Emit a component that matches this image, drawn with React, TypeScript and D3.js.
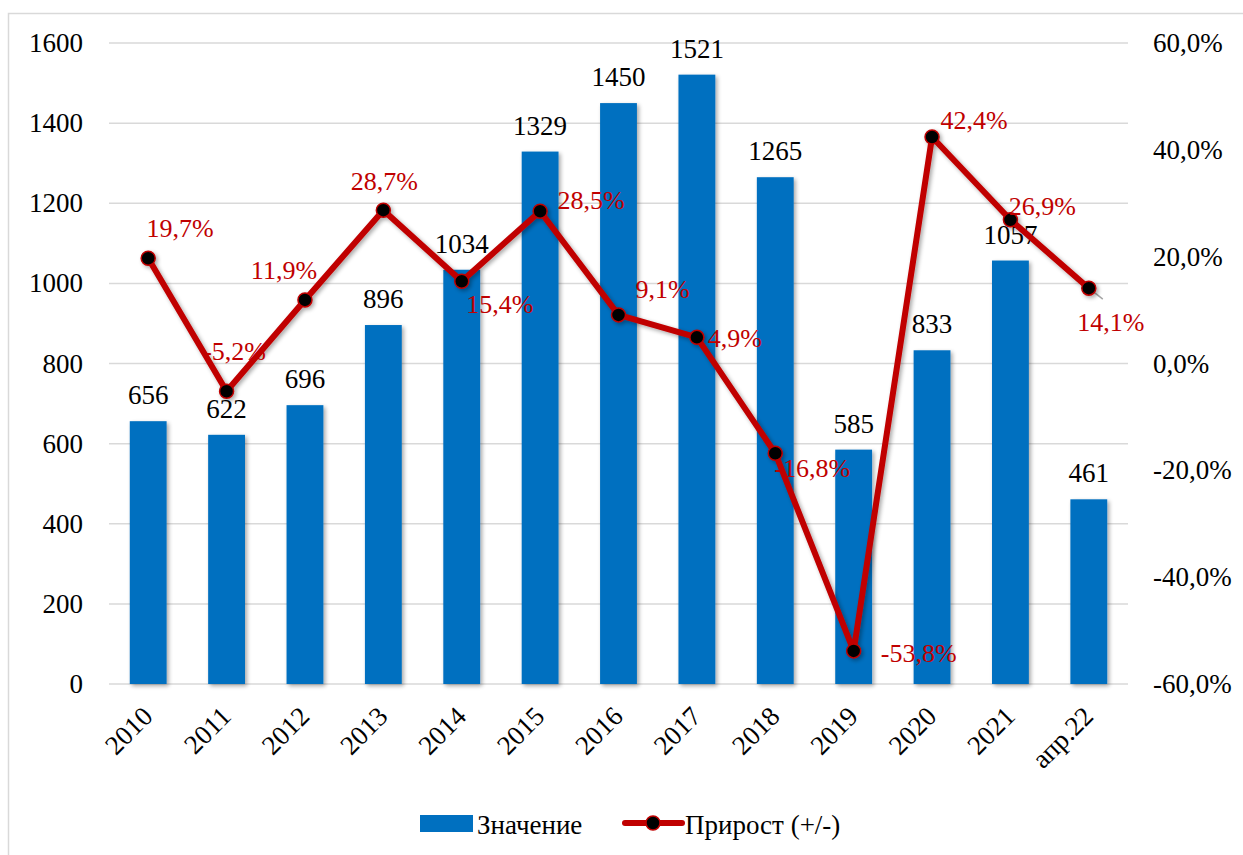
import React from "react";
import * as d3 from "d3";

const categories = ["2010","2011","2012","2013","2014","2015","2016","2017","2018","2019","2020","2021","апр.22"];
const values = [656, 622, 696, 896, 1034, 1329, 1450, 1521, 1265, 585, 833, 1057, 461];
const growth = [19.7, -5.2, 11.9, 28.7, 15.4, 28.5, 9.1, 4.9, -16.8, -53.8, 42.4, 26.9, 14.1];
const leftTicks = [0, 200, 400, 600, 800, 1000, 1200, 1400, 1600];
const rightTicks = [-60, -40, -20, 0, 20, 40, 60];

// label placement offsets (style config)
const labelOffsets: [number, number][] = [
  [32, -30], [8, -40], [-21, -29], [1, -29], [38, 23], [51, -11], [44, -25],
  [38, 1], [37, 15], [65, 3], [42, -17], [32, -13], [22, 34],
];
const leaderIdx = [1, 12];

const W = 1243, H = 855;
const FONT = '"Times New Roman", Times, "Liberation Serif", Tinos, "Nimbus Roman", "FreeSerif", "Noto Serif", "DejaVu Serif", serif';
const BLUE = "#0070C0";
const RED = "#C00000";

const fmtPct = (v: number) => v.toFixed(1).replace(".", ",") + "%";

export default function App() {
  const x = d3.scaleBand<string>().domain(categories).range([109, 1128]).paddingInner(0.53).paddingOuter(0.265);
  const yL = d3.scaleLinear().domain([0, 1600]).range([684, 43]);
  const yR = d3.scaleLinear().domain([-60, 60]).range([684, 43]);
  const cx = (c: string) => (x(c) as number) + x.bandwidth() / 2;

  const line = d3.line<number>().x((_, i) => cx(categories[i])).y((d) => yR(d));
  const ts = { fontFamily: FONT };

  return (
    <svg width={W} height={H} style={{ position: "absolute", left: 0, top: 0, fontFamily: FONT }}>
      <defs>
        <filter id="sh" x="-20%" y="-20%" width="140%" height="140%">
          <feGaussianBlur in="SourceAlpha" stdDeviation="2" />
          <feOffset dx="2" dy="2" result="b" />
          <feComponentTransfer><feFuncA type="linear" slope="0.35" /></feComponentTransfer>
          <feMerge><feMergeNode /><feMergeNode in="SourceGraphic" /></feMerge>
        </filter>
      </defs>
      <rect x={0} y={0} width={W} height={H} fill="#fff" />
      <rect x={8.5} y={13.5} width={1250} height={860} fill="none" stroke="#D9D9D9" strokeWidth={1.5} />

      {leftTicks.map((t) => (
        <g key={t}>
          <line x1={109} x2={1128} y1={yL(t)} y2={yL(t)} stroke="#D9D9D9" strokeWidth={1.5} />
          <text style={ts} x={83} y={yL(t)} textAnchor="end" dominantBaseline="central" fontSize={27} fill="#000">{t}</text>
        </g>
      ))}
      {rightTicks.map((t) => (
        <text style={ts} key={t} x={1153} y={yR(t)} dominantBaseline="central" fontSize={27} fill="#000">{fmtPct(t)}</text>
      ))}

      <g filter="url(#sh)">
        {categories.map((c, i) => (
          <rect key={c} x={x(c)} y={yL(values[i])} width={x.bandwidth()} height={yL(0) - yL(values[i])} fill={BLUE} />
        ))}
      </g>
      {categories.map((c, i) => (
        <text style={ts} key={c} x={cx(c)} y={yL(values[i]) - 17} textAnchor="middle" fontSize={27} fill="#000">{values[i]}</text>
      ))}

      {categories.map((c) => (
        <text style={ts} key={c} transform={`translate(${cx(c) + 6},${718}) rotate(-45)`} textAnchor="end" fontSize={27} fill="#000">{c}</text>
      ))}

      {leaderIdx.map((i) => {
        const px = cx(categories[i]);
        const py = yR(growth[i]);
        const ex = i === 1 ? px + 12 : px + 14;
        const ey = i === 1 ? py - 14 : py + 11;
        return <line key={i} x1={px} y1={py} x2={ex} y2={ey} stroke="#A6A6A6" strokeWidth={1.5} />;
      })}

      <g filter="url(#sh)">
        <path d={line(growth) as string} fill="none" stroke={RED} strokeWidth={6} strokeLinejoin="round" />
        {growth.map((g, i) => (
          <circle key={i} cx={cx(categories[i])} cy={yR(g)} r={7} fill="#000" stroke={RED} strokeWidth={1.5} />
        ))}
      </g>
      {growth.map((g, i) => (
        <text style={ts} key={i} x={cx(categories[i]) + labelOffsets[i][0]} y={yR(g) + labelOffsets[i][1]} textAnchor="middle" dominantBaseline="central" fontSize={26} fill={RED}>{fmtPct(g)}</text>
      ))}

      {/* legend */}
      <rect x={420} y={815} width={53} height={17} fill={BLUE} />
      <text style={ts} x={477} y={825} dominantBaseline="central" fontSize={27} fill="#000">Значение</text>
      <line x1={625} x2={682} y1={823} y2={823} stroke={RED} strokeWidth={6} strokeLinecap="round" />
      <circle cx={653} cy={823} r={7} fill="#000" stroke={RED} strokeWidth={1.5} />
      <text style={ts} x={685} y={825} dominantBaseline="central" fontSize={27} fill="#000">Прирост (+/-)</text>
    </svg>
  );
}
